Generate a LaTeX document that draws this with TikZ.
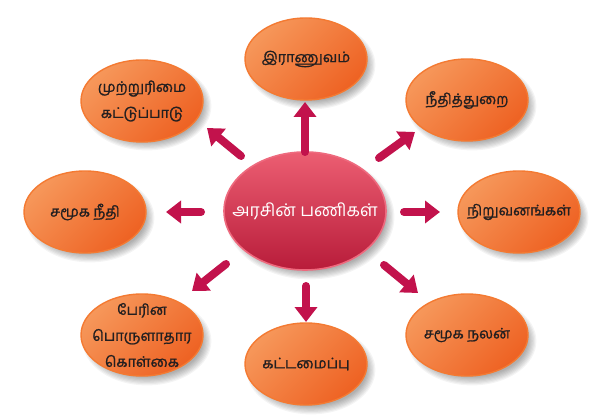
\documentclass[tikz,border=0pt]{standalone}
\usepackage{fontspec}
\newfontfamily\tamil[Script=Tamil]{Hind Madurai}
\newfontfamily\tamilb[Script=Tamil,FakeBold=1.3]{Hind Madurai}
\usetikzlibrary{arrows.meta,shapes.geometric,calc}
\definecolor{orL}{HTML}{F6975A}
\definecolor{orD}{HTML}{EE6223}
\definecolor{orB}{HTML}{F47A32}
\definecolor{rdL}{HTML}{EC5E72}
\definecolor{rdD}{HTML}{B81C3A}
\definecolor{rdB}{HTML}{EE6A7E}
\definecolor{arrC}{HTML}{C2124C}
\definecolor{txt}{HTML}{231F20}
\tikzset{
  leaf/.style={ellipse, minimum width=122pt, minimum height=82pt, inner sep=0pt,
    top color=orL, bottom color=orD, shading angle=45, draw=orB, line width=1.4pt},
  leaftext/.style={font=\tamilb\fontsize{14.5}{26}\selectfont, text=txt, align=center, inner sep=0pt},
  hub/.style={ellipse, minimum width=162pt, minimum height=118pt, inner sep=0pt,
    top color=rdL, bottom color=rdD, draw=rdB, line width=1.6pt},
  hubtext/.style={font=\tamil\fontsize{17.5}{20}\selectfont, text=white, inner sep=0pt},
  arr/.style={draw=arrC, line width=8pt, line cap=round,
    -{Triangle[width=22pt,length=15pt]}}
}
\newcommand\softshadow[4]{%
  \foreach \k in {0,...,7}{%
    \fill[black, opacity=0.045] (#1+5,#2+6) ellipse [x radius={#3+\k*1.2pt}, y radius={#4+\k*1.2pt}];
  }}
\begin{document}
\begin{tikzpicture}[x=1pt,y=-1pt]
\useasboundingbox (0,0) rectangle (615,419);
\fill[white] (0,0) rectangle (615,419);
% shadows
\softshadow{305}{211}{76pt}{54pt}
\softshadow{306}{59}{56pt}{36pt}
\softshadow{142}{100}{56pt}{36pt}
\softshadow{467}{100}{56pt}{36pt}
\softshadow{85}{212}{56pt}{36pt}
\softshadow{519}{212}{56pt}{36pt}
\softshadow{142}{335}{56pt}{36pt}
\softshadow{306}{364}{56pt}{36pt}
\softshadow{467}{335}{56pt}{36pt}
% nodes
\node[hub, label={[hubtext]center:அரசின் பணிகள்}] (c) at (305,211) {};
\node[leaf, label={[leaftext]center:இராணுவம்}] (top) at (306,59) {};
\node[leaf, label={[leaftext]center:{முற்றுரிமை\\கட்டுப்பாடு}}] (ul) at (142,101) {};
\node[leaf, label={[leaftext]center:நீதித்துறை}] (ur) at (467,100) {};
\node[leaf, label={[leaftext]center:சமூக நீதி}] (l) at (85,212) {};
\node[leaf, label={[leaftext]center:நிறுவனங்கள்}] (r) at (519,212) {};
\node[leaf, label={[leaftext]center:{பேரின\\பொருளாதார\\கொள்கை}}] (dl) at (142,335) {};
\node[leaf, label={[leaftext]center:கட்டமைப்பு}] (b) at (306,364) {};
\node[leaf, label={[leaftext]center:சமூக நலன்}] (dr) at (467,335) {};
% arrows
\draw[arr] ($(c)+(0,-59)$) -- ($(top)+(-1,43)$);
\draw[arr] ($(c)+(74,-53)$) -- ($(ur)+(-52,32)$);
\draw[arr] ($(c)+(99,1)$) -- ($(r)+(-79,0)$);
\draw[arr] ($(c)+(79,54)$) -- ($(dr)+(-49,-42)$);
\draw[arr] ($(c)+(1,75)$) -- ($(b)+(0,-42)$);
\draw[arr] ($(c)+(-79,53)$) -- ($(dl)+(50,-44)$);
\draw[arr] ($(c)+(-104,1)$) -- ($(l)+(81,0)$);
\draw[arr] ($(c)+(-64,-55)$) -- ($(ul)+(65,27)$);
\end{tikzpicture}
\end{document}
